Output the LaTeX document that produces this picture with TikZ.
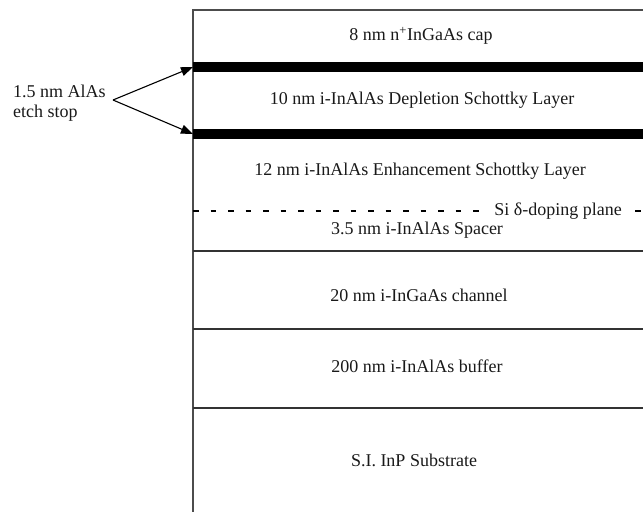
\documentclass[tikz,border=0pt]{standalone}
\usepackage{fontspec}
\setmainfont{Liberation Serif}
\usetikzlibrary{arrows.meta}
\begin{document}
\begin{tikzpicture}[x=1pt,y=-1pt,
  txt/.style={font=\fontsize{18}{20}\selectfont, inner sep=0pt, text=black!90},
  frame/.style={line width=1.3pt, draw=black!70},
  layerline/.style={line width=1.2pt, draw=black!80},
  bar/.style={fill=black, draw=none, minimum width=450pt, minimum height=10pt, inner sep=0pt, anchor=west},
  pointer/.style={line width=1.1pt, -{Triangle[length=12pt,width=9pt]}},
  dopeline/.style={line width=1.2pt, dash pattern=on 5.5pt off 12pt}]
\useasboundingbox (0,0) rectangle (643,512);
% frame
\coordinate (tr) at (643,10);
\coordinate (tl) at (193,10);
\coordinate (bl) at (193,512);
\draw[frame] (tr) -- (tl) -- (bl);
% etch stop bars
\node[bar] (b1) at (193,67) {};
\node[bar] (b2) at (193,134) {};
% layer boundaries
\coordinate (l1a) at (193,251); \coordinate (l1b) at (643,251);
\coordinate (l2a) at (193,329); \coordinate (l2b) at (643,329);
\coordinate (l3a) at (193,408); \coordinate (l3b) at (643,408);
\draw[layerline] (l1a) -- (l1b);
\draw[layerline] (l2a) -- (l2b);
\draw[layerline] (l3a) -- (l3b);
% delta doping plane
\coordinate (d1) at (193,211); \coordinate (d2) at (488,211);
\coordinate (d3) at (635,211); \coordinate (d4) at (643,211);
\draw[dopeline] (d1) -- (d2);
\draw[dopeline] (d3) -- (d4);
\node[txt] (dope) at (558,211) {Si δ-doping plane};
% layer labels
\node[txt] (cap) at (421,36) {8 nm n\textsuperscript{+}InGaAs cap};
\node[txt] (depl) at (422,100) {10 nm i-InAlAs Depletion Schottky Layer};
\node[txt] (enh) at (420,171) {12 nm i-InAlAs Enhancement Schottky Layer};
\node[txt] (spacer) at (417,230) {3.5 nm i-InAlAs Spacer};
\node[txt] (chan) at (419,295) {20 nm i-InGaAs channel};
\node[txt] (buf) at (417,366) {200 nm i-InAlAs buffer};
\node[txt] (sub) at (414,460) {S.I. InP Substrate};
% etch stop label
\node[txt, align=left, anchor=west] (lbl) at (13,103) {1.5 nm AlAs\\etch stop};
\coordinate (apex) at (113,100);
\draw[pointer] (apex) -- (b1.west);
\draw[pointer] (apex) -- (b2.west);
\end{tikzpicture}
\end{document}
